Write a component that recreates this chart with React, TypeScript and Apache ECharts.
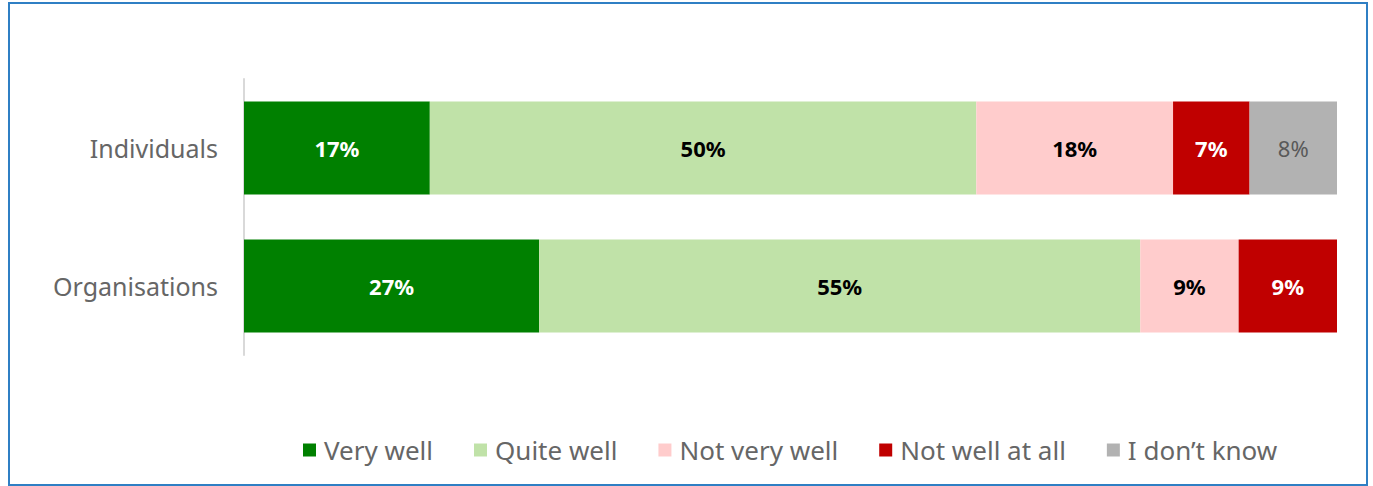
import React, { useEffect, useRef } from "react";
import * as echarts from "echarts";

const categories = ["Individuals", "Organisations"];
const seriesNames = ["Very well", "Quite well", "Not very well", "Not well at all", "I don\u2019t know"];
const veryWell = [17, 27];
const quiteWell = [50, 55];
const notVeryWell = [18, 9];
const notWellAtAll = [7, 9];
const dontKnow: (number | null)[] = [8, null];

const colors = ["#008000", "#C0E2A8", "#FFCCCC", "#C00000", "#B2B2B2"];
const labelColors = ["#FFFFFF", "#000000", "#000000", "#FFFFFF", "#595959"];
const labelWeights = ["bold", "bold", "bold", "bold", "normal"];

const FONT = "'Noto Sans', 'Open Sans', sans-serif";

export default function App() {
  const ref = useRef<HTMLDivElement>(null);
  useEffect(() => {
    document.body.style.margin = "0";
    if (!ref.current) return;
    const chart = echarts.init(ref.current, null, { renderer: "svg" });
    const data = [veryWell, quiteWell, notVeryWell, notWellAtAll, dontKnow];
    chart.setOption({
      animation: false,
      textStyle: { fontFamily: FONT },
      graphic: [
        {
          type: "rect",
          shape: { x: 9, y: 3, width: 1358, height: 482 },
          style: { fill: "none", stroke: "#2F7FC4", lineWidth: 2 },
          silent: true,
        },
      ],
      grid: { left: 244, right: 36, top: 79, bottom: 131 },
      xAxis: { type: "value", min: 0, max: 100, show: false },
      yAxis: {
        type: "category",
        data: categories,
        inverse: true,
        axisLine: { show: true, lineStyle: { color: "#D9D9D9", width: 2 } },
        axisTick: { show: false },
        axisLabel: { fontSize: 25, color: "#666666", margin: 26, fontFamily: FONT, padding: [0, 0, 4, 0] },
      },
      legend: {
        left: 298,
        top: 432,
        icon: "rect",
        itemWidth: 13,
        itemHeight: 13,
        itemGap: 41,
        textStyle: { fontSize: 26, color: "#666666", fontFamily: FONT, padding: [0, 0, 0, 3] },
        data: seriesNames,
      },
      series: seriesNames.map((name, i) => ({
        name,
        type: "bar",
        stack: "total",
        barWidth: 93,
        data: data[i],
        itemStyle: { color: colors[i] },
        label: {
          show: true,
          position: "inside",
          formatter: (p: any) => (p.value == null ? "" : p.value + "%"),
          color: labelColors[i],
          fontWeight: labelWeights[i],
          fontSize: 22,
          fontFamily: FONT,
        },
      })),
    });
    return () => chart.dispose();
  }, []);
  return <div ref={ref} style={{ width: 1373, height: 486 }} />;
}
